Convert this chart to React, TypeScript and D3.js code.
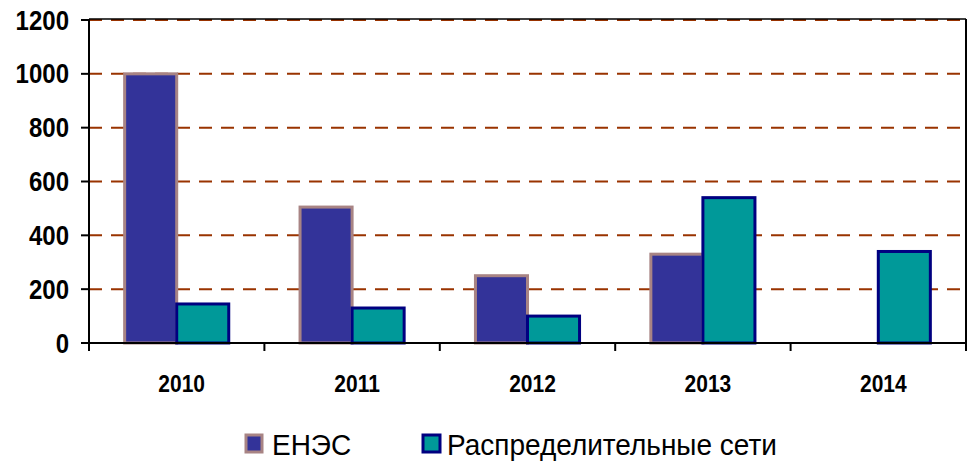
import React from "react";
import { scaleBand, scaleLinear } from "d3";

const years = ["2010", "2011", "2012", "2013", "2014"];
const enes = [1000, 505, 250, 330, null];
const seti = [145, 130, 100, 540, 340];
const yTicks = [0, 200, 400, 600, 800, 1000, 1200];
const seriesNames = ["ЕНЭС", "Распределительные сети"];

const W = 971;
const H = 463;
const left = 89;
const right = 966;
const top = 20;
const bottom = 343;

function App() {
  const x = scaleBand().domain(years).range([left, right]);
  const inner = scaleBand()
    .domain(["enes", "seti"])
    .range([0, x.bandwidth()])
    .paddingOuter(0.685);
  const y = scaleLinear().domain([0, 1200]).range([bottom, top]);

  const font = "'Liberation Sans', Arial, sans-serif";

  return (
    <svg width={W} height={H} style={{ position: "absolute", left: 0, top: 0 }}>
      <rect width={W} height={H} fill="#fff" />
      {/* grid */}
      {yTicks.filter(t => t > 0).map(t => (
        <line key={"g" + t} x1={left} x2={right} y1={y(t)} y2={y(t)}
          stroke="#993300" strokeWidth={2} strokeDasharray="13 9" />
      ))}
      {/* frame top & right */}
      <line x1={left} x2={right} y1={top - 1} y2={top - 1} stroke="#000" strokeWidth={1.5} />
      <line x1={right} x2={right} y1={top - 1} y2={bottom} stroke="#000" strokeWidth={2} />

      {/* bars */}
      {years.map((yr, i) => (
        <g key={yr} transform={`translate(${x(yr)},0)`}>
          {enes[i] != null && (
            <rect x={inner("enes")!} y={y(enes[i] as number)}
              width={inner.bandwidth()} height={bottom - y(enes[i] as number)}
              fill="#333399" stroke="#a88484" strokeWidth={3} />
          )}
          <rect x={inner("seti")!} y={y(seti[i])}
            width={inner.bandwidth()} height={bottom - y(seti[i])}
            fill="#009999" stroke="#000080" strokeWidth={3} />
        </g>
      ))}

      {/* axes */}
      <line x1={left} x2={left} y1={top - 1} y2={bottom + 8} stroke="#000" strokeWidth={2} />
      <line x1={left - 8} x2={right} y1={bottom} y2={bottom} stroke="#000" strokeWidth={2} />
      {yTicks.map(t => (
        <g key={"y" + t}>
          <line x1={left - 8} x2={left} y1={y(t)} y2={y(t)} stroke="#000" strokeWidth={2} />
          <text transform={`translate(69,${y(t) + 9.5}) scale(1,1.12)`} textAnchor="end" fontFamily={font}
            fontWeight="bold" fontSize={24}>{t}</text>
        </g>
      ))}
      {years.concat(["end"]).map((yr, i) => {
        const px = i < years.length ? (x(yr) as number) : right;
        return <line key={"xt" + i} x1={px} x2={px} y1={bottom} y2={bottom + 8} stroke="#000" strokeWidth={2} />;
      })}
      {years.map(yr => (
        <text key={"xl" + yr}
          transform={`translate(${(x(yr) as number) + x.bandwidth() / 2 + 5},392) scale(1,1.18)`}
          textAnchor="middle" fontFamily={font} fontWeight="bold" fontSize={21}>{yr}</text>
      ))}

      {/* legend */}
      <rect x={246} y={435} width={16} height={17} fill="#333399" stroke="#a88484" strokeWidth={3} />
      <text transform="translate(272,455) scale(1,1.05)" fontFamily={font} fontSize={28}>{seriesNames[0]}</text>
      <rect x={423} y={435} width={17} height={17} fill="#009999" stroke="#000080" strokeWidth={3} />
      <text transform="translate(447,455) scale(1,1.05)" fontFamily={font} fontSize={28}>{seriesNames[1]}</text>
    </svg>
  );
}

export default App;
